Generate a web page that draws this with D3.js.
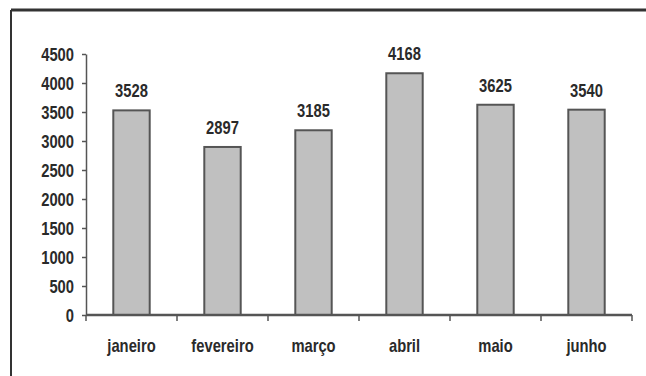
<!DOCTYPE html>
<html>
<head>
<meta charset="utf-8">
<script src="https://cdn.jsdelivr.net/npm/d3@7"></script>
<style>
  body { margin: 0; background: #fff; }
  text { font-family: "Liberation Sans", Arial, sans-serif; font-weight: bold; fill: #2a2a2a; }
</style>
</head>
<body>
<div id="grafico"></div>
<script>
// dados
const meses = ["janeiro", "fevereiro", "março", "abril", "maio", "junho"];
const valores = [3528, 2897, 3185, 4168, 3625, 3540];
const ticksY = [0, 500, 1000, 1500, 2000, 2500, 3000, 3500, 4000, 4500];

const largura = 646, altura = 376;
const esq = 86, dir = 632, topo = 54, base = 315;
const estreito = 0.82; // imita a fonte "narrow" do original
const tamFonte = 18;

const svg = d3.select("#grafico").append("svg")
    .attr("width", largura).attr("height", altura);

// moldura (so o topo e a esquerda aparecem)
svg.append("line").attr("x1", 11).attr("y1", 10).attr("x2", largura).attr("y2", 10)
    .attr("stroke", "#333").attr("stroke-width", 3);
svg.append("line").attr("x1", 11).attr("y1", 10).attr("x2", 11).attr("y2", altura)
    .attr("stroke", "#333").attr("stroke-width", 2);

const x = d3.scaleBand().domain(meses).range([esq, dir]).paddingInner(0.6).paddingOuter(0.3);
const y = d3.scaleLinear().domain([0, 4500]).range([base, topo]);

// eixo y
const eixoY = svg.append("g").attr("transform", "translate(" + esq + ",0)")
    .call(d3.axisLeft(y).tickValues(ticksY).tickFormat(d3.format("d")).tickSize(4).tickSizeOuter(0));
eixoY.select(".domain").attr("stroke", "#555").attr("stroke-width", 1.5);
eixoY.selectAll(".tick line").attr("stroke", "#555").attr("stroke-width", 1.5);
eixoY.selectAll(".tick text")
    .attr("font-size", tamFonte)
    .attr("font-family", null)
    .attr("fill", "#2a2a2a")
    .attr("x", -12 / estreito)
    .attr("dy", "0.36em")
    .attr("transform", "scale(" + estreito + ",1)");

// barras
svg.selectAll(".barra").data(valores).enter().append("rect")
    .attr("class", "barra")
    .attr("x", (d, i) => x(meses[i]))
    .attr("y", d => y(d))
    .attr("width", x.bandwidth())
    .attr("height", d => base - y(d))
    .attr("fill", "#c0c0c0")
    .attr("stroke", "#555")
    .attr("stroke-width", 2);

// rotulos dos valores
svg.selectAll(".rotulo").data(valores).enter().append("text")
    .attr("class", "rotulo")
    .attr("transform", (d, i) => "translate(" + (x(meses[i]) + x.bandwidth() / 2) + "," + (y(d) - 13) + ") scale(" + estreito + ",1)")
    .attr("text-anchor", "middle")
    .attr("font-size", tamFonte)
    .text(d => d);

// eixo x com marcas entre as categorias
const limites = d3.range(meses.length + 1).map(i => esq + i * (dir - esq) / meses.length);
svg.append("line").attr("x1", esq).attr("x2", dir).attr("y1", base).attr("y2", base)
    .attr("stroke", "#555").attr("stroke-width", 2.5);
svg.selectAll(".marcaX").data(limites).enter().append("line")
    .attr("class", "marcaX")
    .attr("x1", d => d).attr("x2", d => d)
    .attr("y1", base).attr("y2", base + 6)
    .attr("stroke", "#555").attr("stroke-width", 1.5);

svg.selectAll(".mes").data(meses).enter().append("text")
    .attr("class", "mes")
    .attr("transform", d => "translate(" + (x(d) + x.bandwidth() / 2) + ",352) scale(" + estreito + ",1)")
    .attr("text-anchor", "middle")
    .attr("font-size", tamFonte)
    .text(d => d);
</script>
</body>
</html>
